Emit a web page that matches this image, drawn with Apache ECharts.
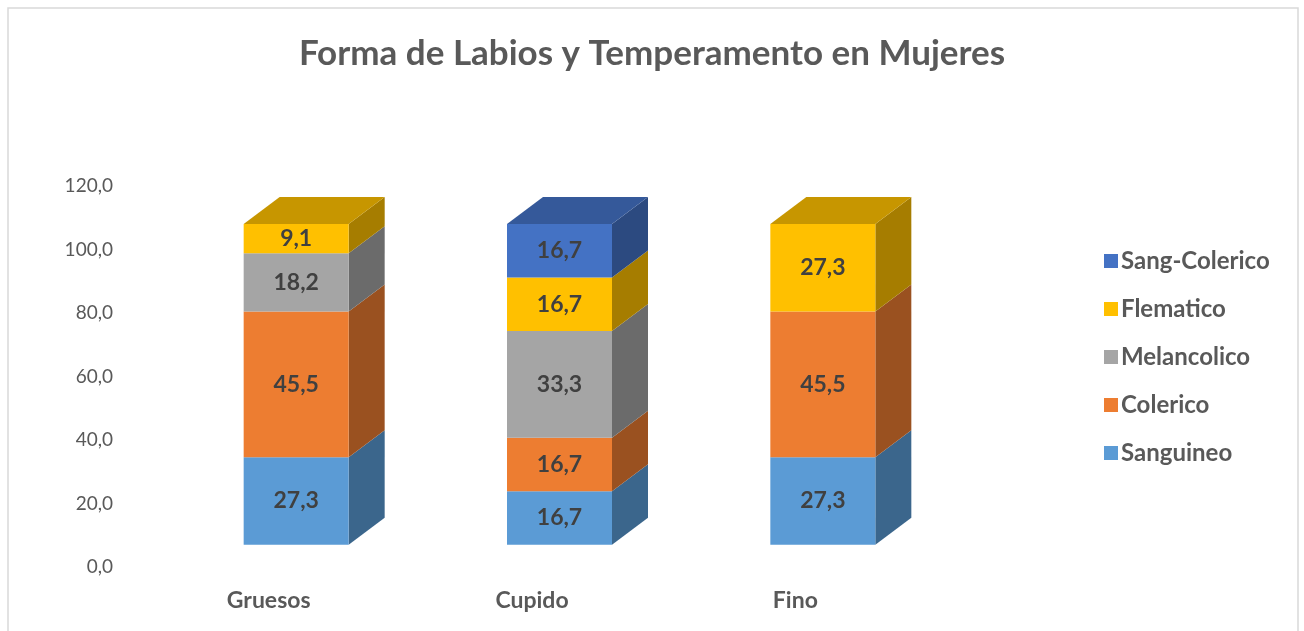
<!DOCTYPE html>
<html>
<head>
<meta charset="utf-8">
<script src="https://cdn.jsdelivr.net/npm/echarts@6/dist/echarts.min.js"></script>
<style>
  html, body { margin: 0; padding: 0; background: #fff; }
  #chart { width: 1304px; height: 631px; }
</style>
</head>
<body>
<div id="chart"></div>
<script>
// datos del grafico
const categorias = ['Gruesos', 'Cupido', 'Fino'];
const sanguineo = [27.3, 16.7, 27.3];
const colerico = [45.5, 16.7, 45.5];
const melancolico = [18.2, 33.3, null];
const flematico = [9.1, 16.7, 27.3];
const sangColerico = [null, 16.7, null];
const nombresSeries = ['Sanguineo', 'Colerico', 'Melancolico', 'Flematico', 'Sang-Colerico'];
const ejeY = [0, 120, 20];

const valores = [sanguineo, colerico, melancolico, flematico, sangColerico];
const colores = ['#5B9BD5', '#ED7D31', '#A5A5A5', '#FFC000', '#4472C4'];
const lados = ['#3B668C', '#9A5120', '#6B6B6B', '#A67D00', '#2C4A80'];
const techos = ['#4A7FAF', '#BA6226', '#838383', '#C79600', '#35599A'];

// profundidad del efecto 3D
const dx = 36, dy = 27, ancho = 105, desplaz = 27.5;

function fmt(v) {
    return v.toFixed(1).replace('.', ',');
}

// construir las series apiladas
var series = valores.map(function (arr, s) {
    var data = [];
    arr.forEach(function (v, i) {
        if (v == null) return;
        var base = 0;
        for (var k = 0; k < s; k++) base += valores[k][i] || 0;
        // es el ultimo segmento de la pila?
        var ultimo = true;
        for (var k = s + 1; k < valores.length; k++) if (valores[k][i]) ultimo = false;
        data.push([i, base, base + v, v, ultimo ? 1 : 0]);
    });
    return {
        name: nombresSeries[s],
        type: 'custom',
        yAxisIndex: 1,
        itemStyle: { color: colores[s] },
        encode: { x: 0, y: [1, 2] },
        data: data,
        renderItem: function (params, api) {
            var p0 = api.coord([api.value(0), api.value(1)]);
            var p1 = api.coord([api.value(0), api.value(2)]);
            var xl = p0[0] + desplaz - ancho / 2;
            var xr = xl + ancho;
            var yb = p0[1], yt = p1[1];
            var hijos = [
                {
                    type: 'polygon',
                    shape: { points: [[xr, yb], [xr + dx, yb - dy], [xr + dx, yt - dy], [xr, yt]] },
                    style: { fill: lados[s] }
                },
                {
                    type: 'rect',
                    shape: { x: xl, y: yt, width: ancho, height: yb - yt },
                    style: { fill: colores[s] }
                }
            ];
            if (api.value(4)) {
                hijos.push({
                    type: 'polygon',
                    shape: { points: [[xl, yt], [xl + dx, yt - dy], [xr + dx, yt - dy], [xr, yt]] },
                    style: { fill: techos[s] }
                });
            }
            hijos.push({
                type: 'text',
                style: {
                    text: fmt(api.value(3)),
                    x: (xl + xr) / 2,
                    y: (yb + yt) / 2,
                    align: 'center',
                    verticalAlign: 'middle',
                    fill: '#404040',
                    font: 'bold 23px Lato'
                }
            });
            return { type: 'group', children: hijos };
        }
    };
});

var option = {
    animation: false,
    textStyle: { fontFamily: 'Lato' },
    title: {
        text: 'Forma de Labios y Temperamento en Mujeres',
        left: 'center',
        top: 31,
        textStyle: { fontSize: 35, fontWeight: 'bold', color: '#595959', fontFamily: 'Lato' }
    },
    legend: {
        orient: 'vertical',
        left: 1099,
        top: 244,
        itemWidth: 14,
        itemHeight: 14,
        itemGap: 24,
        icon: 'rect',
        data: nombresSeries.slice().reverse(),
        textStyle: { fontSize: 24, fontWeight: 'bold', color: '#595959', lineHeight: 24, padding: [0, 0, 0, -2] }
    },
    graphic: [{
        type: 'rect',
        shape: { x: 8, y: 8, width: 1290, height: 640 },
        style: { fill: 'none', stroke: '#d9d9d9', lineWidth: 1.5 },
        silent: true
    }],
    grid: { left: 137, width: 790, top: 186, bottom: 64 },
    xAxis: {
        type: 'category',
        data: categorias,
        axisLine: { show: false },
        axisTick: { show: false },
        axisLabel: { fontSize: 23, fontWeight: 'bold', color: '#595959', margin: 22 }
    },
    yAxis: [{
        type: 'value',
        min: ejeY[0],
        max: ejeY[1],
        interval: ejeY[2],
        splitLine: { show: false },
        axisLine: { show: false },
        axisTick: { show: false },
        axisLabel: { fontSize: 19, color: '#595959', margin: 24, formatter: fmt }
    }, {
        type: 'value',
        min: -6.96,
        max: 111.95,
        show: false,
        splitLine: { show: false }
    }],
    series: series
};

var chart = echarts.init(document.getElementById('chart'));
chart.setOption(option);
</script>
</body>
</html>
